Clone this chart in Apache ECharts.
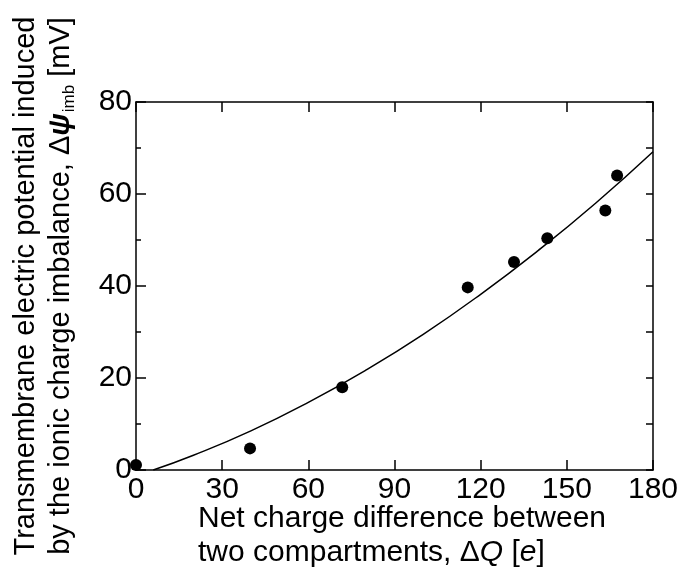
<!DOCTYPE html>
<html>
<head>
<meta charset="utf-8">
<script src="https://cdn.jsdelivr.net/npm/echarts@6/dist/echarts.min.js"></script>
<style>
html,body{margin:0;padding:0;background:#fff;}
#chart{width:682px;height:581px;}
</style>
</head>
<body>
<div id="chart"></div>
<script>
// Measured data points (ΔQ, Δψ_imb)
const pointsX = [0, 39.7, 71.8, 115.5, 131.6, 143.2, 163.4, 167.5];
const pointsY = [1.1, 4.7, 18.0, 39.7, 45.2, 50.4, 56.4, 64.0];
// Fitted curve
const fitX = [6, 20, 40, 60, 80, 100, 120, 140, 160, 180];
const fitY = [0, 3.2, 8.5, 14.7, 21.7, 29.5, 38.2, 47.7, 58.0, 69.2];
// Axis ticks
const xTicks = [0, 30, 60, 90, 120, 150, 180];
const yTicks = [0, 20, 40, 60, 80];

const FONT = '"Liberation Sans", Arial, sans-serif';
const FS = 29;
const XFS = 30;
const TFS = 30;

const chart = echarts.init(document.getElementById('chart'), null, {renderer: 'canvas'});

const axisLine = {show: true, onZero: false, lineStyle: {color: '#000', width: 1.5}};

const option = {
  animation: false,
  backgroundColor: '#fff',
  textStyle: {fontFamily: FONT, color: '#000'},
  grid: {left: 136, right: 29, top: 102, bottom: 111, containLabel: false},
  title: {
    left: 198, top: 502, padding: 0,
    text: '{a|Net charge difference between}\n{a|two compartments, Δ}{i|Q}{a| [}{i|e}{a|]}',
    textStyle: {
      fontWeight: 'normal',
      rich: {
        a: {fontFamily: FONT, fontSize: XFS, fontWeight: 'normal', color: '#000', lineHeight: 34},
        i: {fontFamily: FONT, fontSize: XFS, fontWeight: 'normal', color: '#000', fontStyle: 'italic', lineHeight: 34}
      }
    }
  },
  xAxis: [{
    type: 'value', position: 'bottom',
    min: xTicks[0], max: xTicks[xTicks.length - 1], interval: xTicks[1] - xTicks[0],
    axisLine: axisLine,
    axisTick: {show: true, inside: true, length: 10, lineStyle: {color: '#000', width: 1.5}},
    axisLabel: {show: true, margin: 5, fontFamily: FONT, fontSize: TFS, color: '#000'},
    splitLine: {show: false}
  }, {
    type: 'value', position: 'top',
    min: xTicks[0], max: xTicks[xTicks.length - 1], interval: xTicks[1] - xTicks[0],
    axisLine: axisLine,
    axisTick: {show: true, inside: true, length: 10, lineStyle: {color: '#000', width: 1.5}},
    axisLabel: {show: false},
    splitLine: {show: false}
  }],
  yAxis: [{
    type: 'value', position: 'left',
    min: yTicks[0], max: yTicks[yTicks.length - 1], interval: yTicks[1] - yTicks[0],
    axisLine: axisLine,
    axisTick: {show: true, inside: true, length: 10, lineStyle: {color: '#000', width: 1.5}},
    minorTick: {show: true, splitNumber: 2, length: 5, lineStyle: {color: '#000', width: 1.5}},
    axisLabel: {show: true, margin: 4, fontFamily: FONT, fontSize: TFS, color: '#000'},
    splitLine: {show: false},
    minorSplitLine: {show: false},
    name: '{a|Transmembrane electric potential induced}\n{a|by the ionic charge imbalance, Δ}{psi|ψ}{sub|imb}{a| [mV]}',
    nameLocation: 'middle',
    nameRotate: 90,
    nameGap: 58,
    nameTextStyle: {
      rich: {
        a: {fontFamily: FONT, fontSize: FS, color: '#000', lineHeight: 35},
        psi: {fontFamily: FONT, fontSize: FS, color: '#000', fontStyle: 'italic', fontWeight: 'bold', lineHeight: 35},
        sub: {fontFamily: FONT, fontSize: 17, color: '#000', lineHeight: 35, verticalAlign: 'bottom', padding: [0, 0, 0, 1]}
      }
    }
  }, {
    type: 'value', position: 'right',
    min: yTicks[0], max: yTicks[yTicks.length - 1], interval: 10,
    axisLine: axisLine,
    axisTick: {show: true, inside: true, length: 7, lineStyle: {color: '#000', width: 1.5}},
    axisLabel: {show: false},
    splitLine: {show: false}
  }],
  series: [{
    type: 'line',
    xAxisIndex: 0, yAxisIndex: 0,
    data: fitX.map((x, i) => [x, fitY[i]]),
    smooth: true,
    showSymbol: false,
    lineStyle: {color: '#000', width: 1.5},
    z: 2
  }, {
    type: 'scatter',
    xAxisIndex: 0, yAxisIndex: 0,
    data: pointsX.map((x, i) => [x, pointsY[i]]),
    symbol: 'circle',
    symbolSize: 12,
    itemStyle: {color: '#000', opacity: 1},
    clip: false,
    z: 3
  }]
};
chart.setOption(option);
</script>
</body>
</html>
